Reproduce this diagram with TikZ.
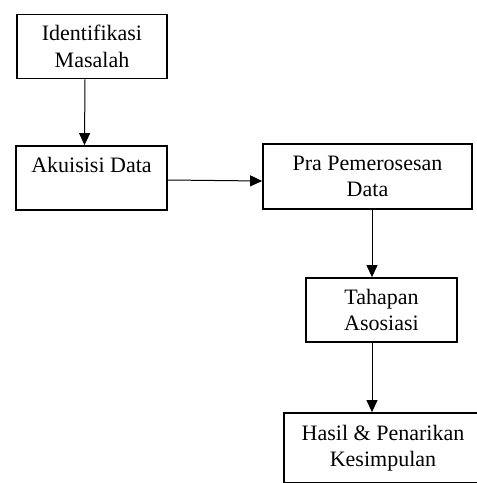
\documentclass[tikz,border=0pt]{standalone}
\usepackage{fontspec}
\setmainfont{Liberation Serif}
\usetikzlibrary{arrows.meta}

\begin{document}
\begin{tikzpicture}[x=1pt,y=-1pt,
  box/.style={draw, line width=1.8pt, align=center, inner sep=0pt,
    font=\fontsize{22}{26.5}\selectfont},
  flow/.style={line width=1pt, -{Triangle[width=11pt,length=12pt]}}]

  \clip (0,0) rectangle (477,483);

        % tahapan penelitian
        \node (idm) at (92,45) [box, minimum width=150pt, minimum height=64pt, yshift=-1.5pt] {Identifikasi\\Masalah};
        \node (akd) at (91.5,178) [box, minimum width=151pt, minimum height=64pt] {Akuisisi Data\\\mbox{}};
        \node (pra) at (367.5,176.5) [box, minimum width=209pt, minimum height=65pt] {Pra Pemerosesan\\Data};
        \node (asc) at (381.5,310) [box, minimum width=151pt, minimum height=64pt] {Tahapan\\Asosiasi};
        \node (hsl) at (383,448) [box, minimum width=198pt, minimum height=70pt] {Hasil \& Penarikan\\Kesimpulan};

        \draw[flow] ([xshift=-7pt]idm.south) to ([xshift=-7pt]akd.north);
        \draw[flow] ([yshift=-2pt]akd.east) to ([yshift=-4.5pt]pra.west);
        \draw[flow] ([xshift=4.5pt]pra.south) to ([xshift=4.5pt]pra.south |- asc.north);
        \draw[flow] ([xshift=4.5pt]pra.south |- asc.south) to ([xshift=4.5pt]pra.south |- hsl.north);

\end{tikzpicture}
\end{document}
